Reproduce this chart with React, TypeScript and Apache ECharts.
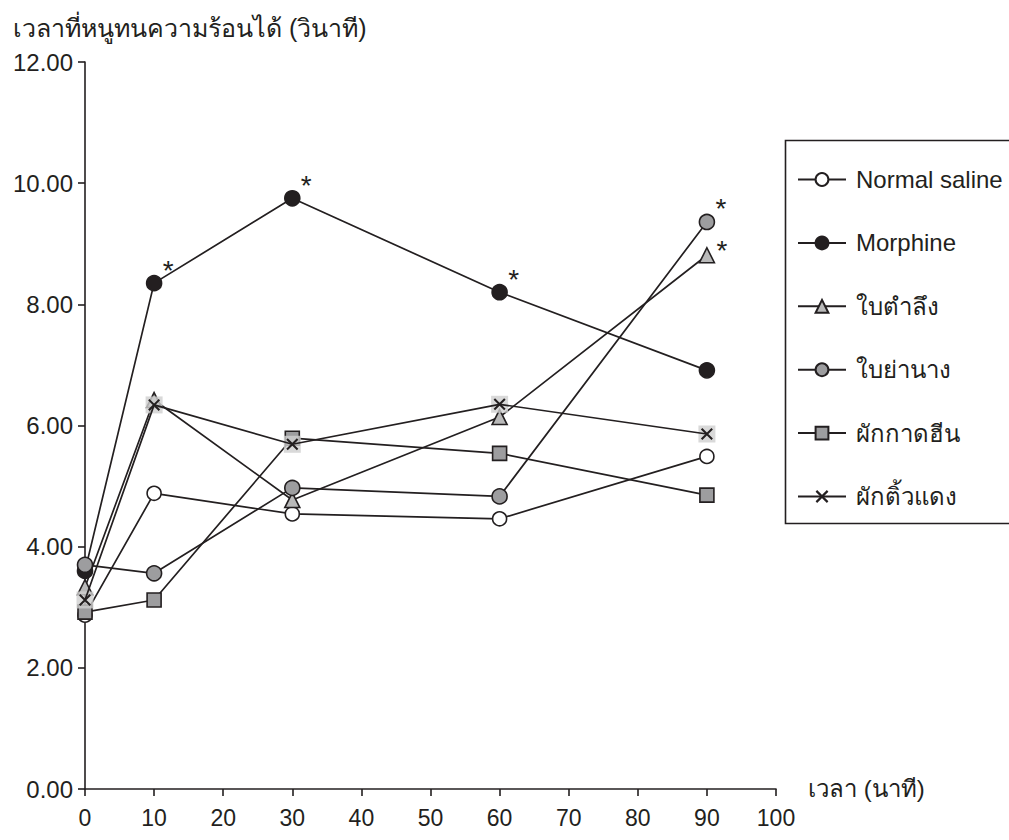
import React, { useEffect, useRef } from "react";
import * as echarts from "echarts";

const timePoints = [0, 10, 30, 60, 90];
const seriesNames = ["Normal saline", "Morphine", "ใบตำลึง", "ใบย่านาง", "ผักกาดฮีน", "ผักติ้วแดง"];
const normalSaline = [2.87, 4.88, 4.54, 4.46, 5.49];
const morphine = [3.6, 8.35, 9.75, 8.2, 6.91];
const baiTamlueng = [3.33, 6.42, 4.77, 6.14, 8.81];
const baiYanang = [3.7, 3.56, 4.97, 4.83, 9.36];
const phakKatHin = [2.92, 3.12, 5.79, 5.54, 4.85];
const phakTiewDaeng = [3.12, 6.34, 5.69, 6.35, 5.86];
const seriesValues = [normalSaline, morphine, baiTamlueng, baiYanang, phakKatHin, phakTiewDaeng];
// indices of points marked as significant (*)
const starIndices: number[][] = [[], [1, 2, 3], [4], [4], [], []];
const yAxisTitle = "เวลาที่หนูทนความร้อนได้ (วินาที)";
const xAxisTitle = "เวลา (นาที)";

const INK = "#231f20";
const FONT = "'Liberation Sans', Arial, 'Noto Sans', sans-serif";
const X_PATH =
  "path://M0,1.2 L1.2,0 L10,8.8 L8.8,10 Z M8.8,0 L10,1.2 L1.2,10 L0,8.8 Z";

const markerStyles = [
  { symbol: "circle", size: 14, fill: "#ffffff" },
  { symbol: "circle", size: 15, fill: INK },
  { symbol: "triangle", size: 15, fill: "#b9b9b9" },
  { symbol: "circle", size: 15, fill: "#9d9d9f" },
  { symbol: "rect", size: 14, fill: "#9d9d9f" },
  { symbol: X_PATH, size: 12, fill: INK },
];

export default function App() {
  const ref = useRef<HTMLDivElement>(null);
  useEffect(() => {
    if (!ref.current) return;
    const chart = echarts.init(ref.current, undefined, { renderer: "svg" });

    const lineSeries: any[] = seriesNames.map((name, si) => {
      const m = markerStyles[si];
      const isX = si === 5;
      return {
        name,
        type: "line",
        z: isX ? 5 : 2,
        symbol: m.symbol,
        symbolSize: m.size,
        showAllSymbol: true,
        lineStyle: { color: INK, width: 1.7 },
        itemStyle: isX
          ? { color: INK, borderWidth: 0 }
          : { color: m.fill, borderColor: INK, borderWidth: 1.6 },
        data: seriesValues[si].map((v, i) => {
          const point: any = { value: [timePoints[i], v] };
          if (starIndices[si].includes(i)) {
            point.label = {
              show: true,
              formatter: "*",
              position: "inside",
              offset: si === 2 ? [15, -5] : [14, -13],
              color: INK,
              fontSize: 28,
              fontFamily: FONT,
            };
          }
          return point;
        }),
      };
    });

    // light grey square behind the X markers
    const xBackground = {
      name: seriesNames[5],
      type: "scatter",
      z: 4,
      symbol: "rect",
      symbolSize: 17,
      silent: true,
      itemStyle: { color: "#cfcfcf" },
      data: phakTiewDaeng.map((v, i) => [timePoints[i], v]),
    };

    chart.setOption({
      animation: false,
      backgroundColor: "#ffffff",
      grid: { left: 85, right: 233, top: 62, bottom: 51 },
      xAxis: {
        type: "value",
        min: 0,
        max: 100,
        interval: 10,
        splitLine: { show: false },
        axisLine: { lineStyle: { color: INK, width: 1.6 } },
        axisTick: { length: 7, lineStyle: { color: INK, width: 1.6 } },
        axisLabel: { color: INK, fontSize: 23, fontFamily: FONT, margin: 17 },
      },
      yAxis: {
        type: "value",
        min: 0,
        max: 12,
        interval: 2,
        splitLine: { show: false },
        axisLine: { show: true, lineStyle: { color: INK, width: 1.6 } },
        axisTick: { show: true, length: 7, lineStyle: { color: INK, width: 1.6 } },
        axisLabel: {
          color: INK,
          fontSize: 24,
          fontFamily: FONT,
          margin: 12,
          formatter: (v: number) => v.toFixed(2),
        },
      },
      legend: {
        data: seriesNames,
        orient: "vertical",
        left: 797,
        top: 166,
        padding: 0,
        itemWidth: 48,
        itemHeight: 16,
        itemGap: 36.4,
        selectedMode: false,
        textStyle: { color: INK, fontSize: 24, fontFamily: FONT, lineHeight: 27, padding: [0, 0, 0, 5] },
      },
      graphic: [
        {
          type: "rect",
          left: 783,
          top: 138,
          shape: { width: 300, height: 383 },
          style: { fill: "none", stroke: INK, lineWidth: 1.6 },
          z: -1,
        },
        {
          type: "text",
          left: 13,
          top: 15,
          style: { text: yAxisTitle, fill: INK, fontSize: 25, fontFamily: FONT },
        },
        {
          type: "text",
          left: 808,
          top: 776,
          style: { text: xAxisTitle, fill: INK, fontSize: 24, fontFamily: FONT },
        },
      ],
      series: [...lineSeries, xBackground],
    });
    return () => chart.dispose();
  }, []);
  return (
    <div
      ref={ref}
      style={{ position: "absolute", left: 0, top: 0, width: 1009, height: 840 }}
    />
  );
}
